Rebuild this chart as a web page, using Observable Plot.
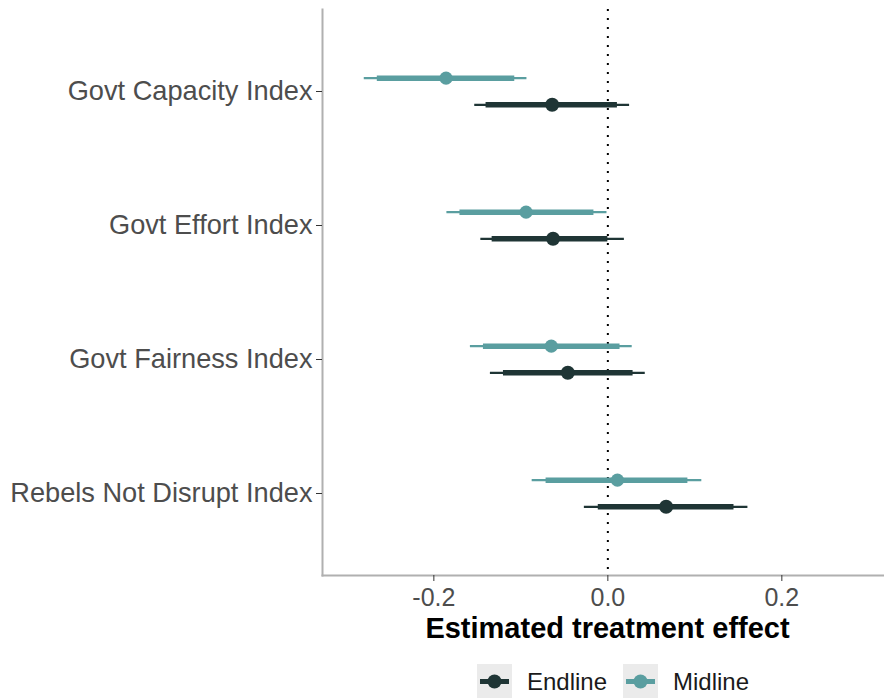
<!DOCTYPE html>
<html>
<head>
<meta charset="utf-8">
<script src="https://cdn.jsdelivr.net/npm/d3@7"></script>
<script src="https://cdn.jsdelivr.net/npm/@observablehq/plot@0.6"></script>
<style>
  html, body { margin: 0; padding: 0; background: #fff; }
  body { width: 884px; height: 698px; overflow: hidden; font-family: "Liberation Sans", Arial, sans-serif; }
  #legend { position: relative; height: 53px; }
  .key { position: absolute; top: 19px; width: 35px; height: 35px; background: #ebebeb; }
  .lab { position: absolute; top: 19px; height: 35px; line-height: 35px; font-size: 24px; color: #1a1a1a; }
</style>
</head>
<body>
<div id="chart"></div>
<div id="legend"></div>
<script>
const categories = ["Govt Capacity Index", "Govt Effort Index", "Govt Fairness Index", "Rebels Not Disrupt Index"];
const waves = ["Endline", "Midline"];
const waveColors = ["#1f3535", "#5a9ea0"];
const xTicks = [-0.2, 0.0, 0.2];
const xDomain = [-0.328, 0.318];

// Midline estimates and intervals
const midEst  = [-0.186, -0.094, -0.065, 0.011];
const midLo90 = [-0.265, -0.170, -0.143, -0.071];
const midHi90 = [-0.107, -0.016, 0.014, 0.092];
const midLo95 = [-0.280, -0.185, -0.158, -0.087];
const midHi95 = [-0.093, -0.001, 0.028, 0.108];

// Endline estimates and intervals
const endEst  = [-0.064, -0.063, -0.046, 0.067];
const endLo90 = [-0.140, -0.133, -0.120, -0.011];
const endHi90 = [0.011, 0.000, 0.029, 0.145];
const endLo95 = [-0.153, -0.146, -0.135, -0.027];
const endHi95 = [0.025, 0.019, 0.043, 0.161];

const rows = [];
categories.forEach((c, i) => {
  rows.push({category: c, wave: "Midline", est: midEst[i], lo90: midLo90[i], hi90: midHi90[i], lo95: midLo95[i], hi95: midHi95[i]});
  rows.push({category: c, wave: "Endline", est: endEst[i], lo90: endLo90[i], hi90: endHi90[i], lo95: endLo95[i], hi95: endHi95[i]});
});

const offsets = {Midline: -13.3, Endline: 13.3};
const colorOf = w => waveColors[waves.indexOf(w)];

const waveMarks = waves.flatMap(w => {
  const d = rows.filter(r => r.wave === w);
  const col = colorOf(w);
  const dy = offsets[w];
  return [
    Plot.ruleY(d, {y: "category", x1: "lo95", x2: "hi95", stroke: col, strokeWidth: 2.3, dy}),
    Plot.ruleY(d, {y: "category", x1: "lo90", x2: "hi90", stroke: col, strokeWidth: 5.5, dy}),
    Plot.dot(d, {y: "category", x: "est", fill: col, r: w === "Endline" ? 7 : 6.6, dy})
  ];
});

const chart = Plot.plot({
  width: 884,
  height: 645,
  marginLeft: 322,
  marginRight: 0,
  marginTop: 9,
  marginBottom: 70,
  style: {fontFamily: "'Liberation Sans', Arial, sans-serif", background: "#fff"},
  x: {domain: xDomain, label: null},
  y: {type: "point", domain: categories, padding: 0.6, label: null},
  marks: [
    Plot.frame({anchor: "left", stroke: "#b0b0b0", strokeWidth: 2}),
    Plot.frame({anchor: "bottom", stroke: "#b0b0b0", strokeWidth: 2}),
    Plot.ruleX([0], {stroke: "#000", strokeWidth: 2, strokeDasharray: "2,7"}),
    ...waveMarks,
    Plot.axisX({ticks: xTicks, tickFormat: d => d.toFixed(1), tickSize: 6, tickPadding: 7, fontSize: 25, stroke: "#333", color: "#4d4d4d", label: null}),
    Plot.axisY({tickSize: 6, tickPadding: 4, fontSize: 27.2, stroke: "#333", color: "#4d4d4d", label: null}),
    Plot.text(["Estimated treatment effect"], {frameAnchor: "bottom", dy: 62, dx: 4, fontSize: 29, fontWeight: "bold", fill: "#000"})
  ]
});
document.getElementById("chart").appendChild(chart);

// Legend
const legend = document.getElementById("legend");
const keyLeft = [477, 623];
const labLeft = [527, 673];
waves.forEach((w, i) => {
  const key = document.createElement("div");
  key.className = "key";
  key.style.left = keyLeft[i] + "px";
  const col = colorOf(w);
  key.innerHTML = `<svg width="35" height="35"><line x1="3" x2="32" y1="17.5" y2="17.5" stroke="${col}" stroke-width="5"/><circle cx="17.5" cy="17.5" r="7" fill="${col}"/></svg>`;
  legend.appendChild(key);
  const lab = document.createElement("div");
  lab.className = "lab";
  lab.style.left = labLeft[i] + "px";
  lab.textContent = w;
  legend.appendChild(lab);
});
</script>
</body>
</html>
